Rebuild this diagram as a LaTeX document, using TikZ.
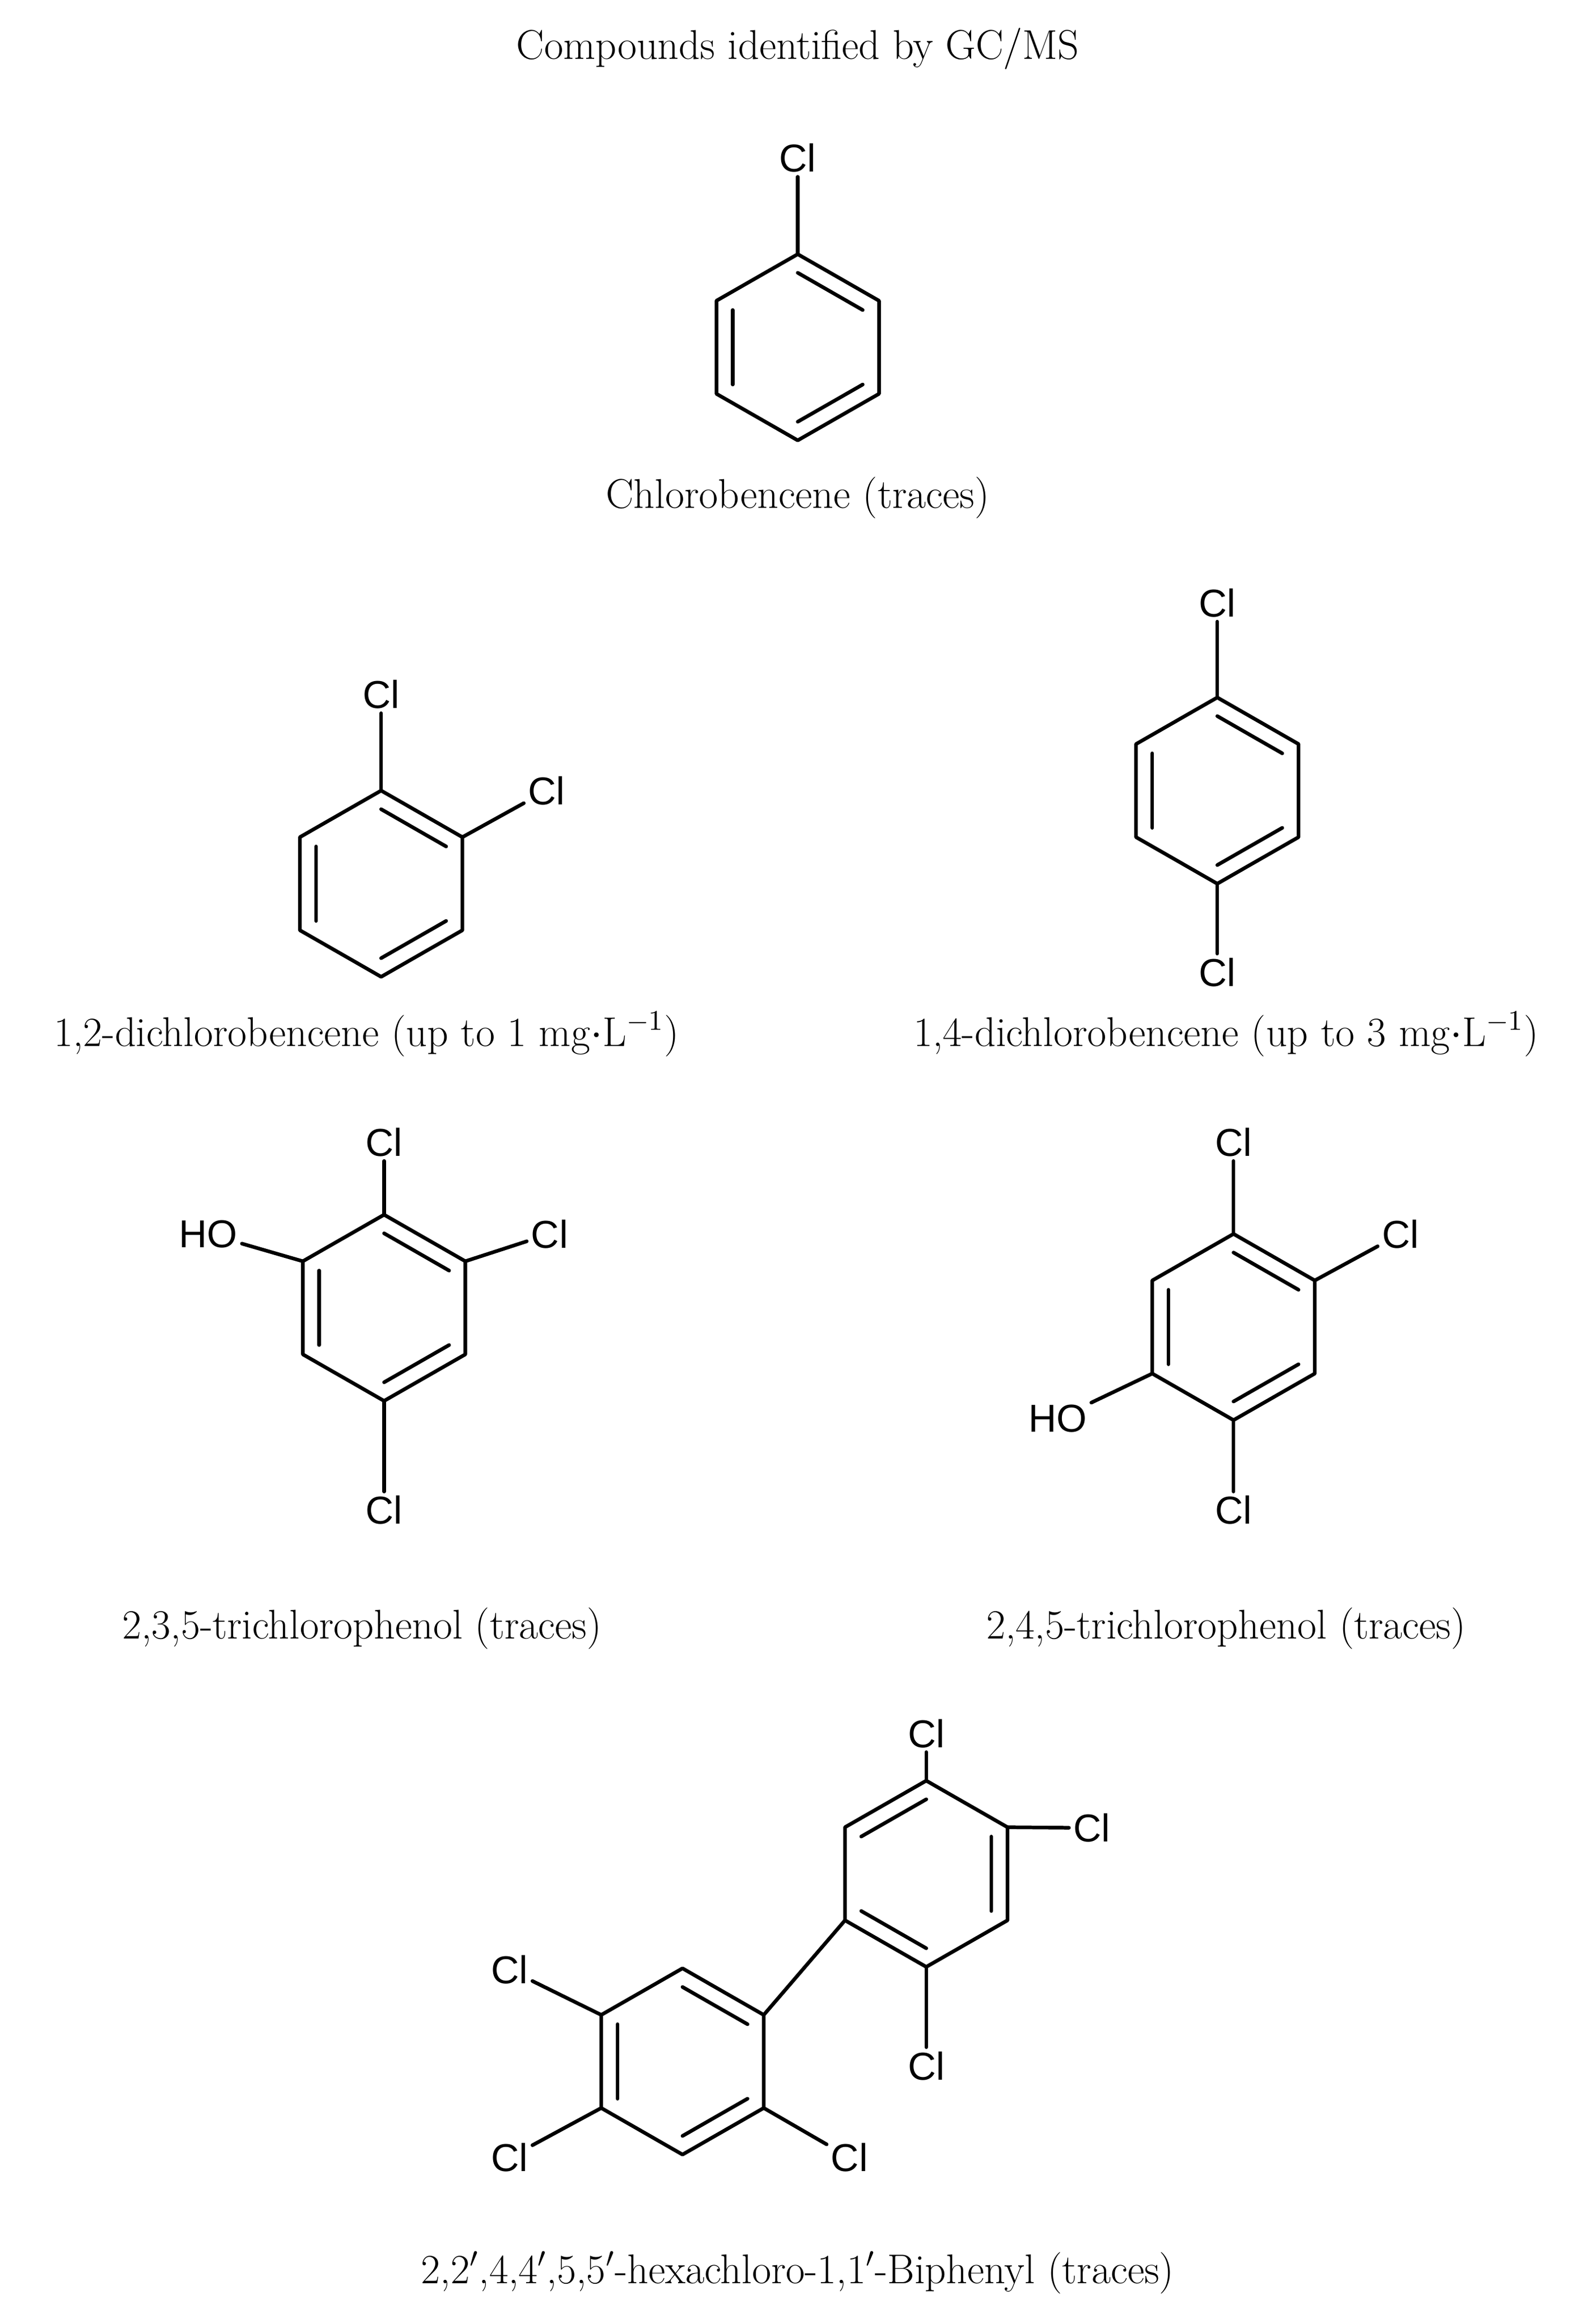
\documentclass[tikz,border=0pt]{standalone}
\usepackage{fontspec}
\newfontfamily\atomfont{Liberation Sans}
\usetikzlibrary{calc}
\tikzset{
  bond/.style={line width=1.4pt,line cap=round,line join=round},
  atom/.style={font=\atomfont\fontsize{15}{17}\selectfont,inner sep=1.5pt},
  captext/.style={font=\fontsize{16}{19}\selectfont,inner sep=0pt}
}
\newcommand{\ringat}[3]{%
  \coordinate (#1c) at (#2,#3);
  \coordinate (#11) at ($(#1c)+(0,-63)$);
  \coordinate (#12) at ($(#1c)+(55,-31.5)$);
  \coordinate (#13) at ($(#1c)+(55,31.5)$);
  \coordinate (#14) at ($(#1c)+(0,63)$);
  \coordinate (#15) at ($(#1c)+(-55,31.5)$);
  \coordinate (#16) at ($(#1c)+(-55,-31.5)$);
  \draw[bond] (#11)--(#12)--(#13)--(#14)--(#15)--(#16)--cycle;}
\newcommand{\dbl}[3]{\draw[bond] ($(#1#2)!.2!(#1c)$) -- ($(#1#3)!.2!(#1c)$);}
\begin{document}
\begin{tikzpicture}[x=0.02cm,y=-0.02cm]
\useasboundingbox (0,0) rectangle (1080,1572);
\node[captext] (title) at (540,33) {Compounds identified by GC/MS};
\ringat{a}{540}{235}
\dbl{a}{1}{2}\dbl{a}{3}{4}\dbl{a}{5}{6}
\node[atom] (acl) at (540,107) {Cl};
\draw[bond] (a1) -- (acl);
\node[captext] (alab) at (540,337) {Chlorobencene (traces)};
\ringat{b}{258}{598}
\dbl{b}{1}{2}\dbl{b}{3}{4}\dbl{b}{5}{6}
\node[atom] (bcl1) at (258,470) {Cl};
\node[atom] (bcl2) at (370,535) {Cl};
\draw[bond] (b1) -- (bcl1);
\draw[bond] (b2) -- (bcl2);
\node[captext] (blab) at (248,700) {1,2-dichlorobencene (up to 1 mg$\cdot$L$^{-1}$)};
\ringat{c}{824}{535}
\dbl{c}{1}{2}\dbl{c}{3}{4}\dbl{c}{5}{6}
\node[atom] (ccl1) at (824,408) {Cl};
\node[atom] (ccl2) at (824,658) {Cl};
\draw[bond] (c1) -- (ccl1);
\draw[bond] (c4) -- (ccl2);
\node[captext] (clab) at (830,700) {1,4-dichlorobencene (up to 3 mg$\cdot$L$^{-1}$)};
\ringat{d}{260}{885}
\dbl{d}{1}{2}\dbl{d}{3}{4}\dbl{d}{5}{6}
\node[atom] (dcl1) at (260,773) {Cl};
\node[atom] (dcl2) at (372,835) {Cl};
\node[atom] (dho) at (141,835) {HO};
\node[atom] (dcl3) at (260,1022) {Cl};
\draw[bond] (d1) -- (dcl1);
\draw[bond] (d2) -- (dcl2);
\draw[bond] (d6) -- (dho);
\draw[bond] (d4) -- (dcl3);
\node[captext] (dlab) at (245,1102) {2,3,5-trichlorophenol (traces)};
\ringat{e}{835}{898}
\dbl{e}{1}{2}\dbl{e}{3}{4}\dbl{e}{5}{6}
\node[atom] (ecl1) at (835,773) {Cl};
\node[atom] (ecl2) at (948,835) {Cl};
\node[atom] (eho) at (716,960) {HO};
\node[atom] (ecl3) at (835,1022) {Cl};
\draw[bond] (e1) -- (ecl1);
\draw[bond] (e2) -- (ecl2);
\draw[bond] (e5) -- (eho);
\draw[bond] (e4) -- (ecl3);
\node[captext] (elab) at (830,1102) {2,4,5-trichlorophenol (traces)};
\ringat{f}{627}{1268}
\dbl{f}{6}{1}\dbl{f}{2}{3}\dbl{f}{4}{5}
\ringat{g}{462}{1395}
\dbl{g}{1}{2}\dbl{g}{3}{4}\dbl{g}{5}{6}
\draw[bond] (f5) -- (g2);
\node[atom] (fcl1) at (627,1173) {Cl};
\node[atom] (fcl2) at (739,1237) {Cl};
\node[atom] (fcl3) at (627,1398) {Cl};
\node[atom] (gcl1) at (345,1333) {Cl};
\node[atom] (gcl2) at (345,1460) {Cl};
\node[atom] (gcl3) at (575,1460) {Cl};
\draw[bond] (f1) -- (fcl1);
\draw[bond] (f2) -- (fcl2);
\draw[bond] (f4) -- (fcl3);
\draw[bond] (g6) -- (gcl1);
\draw[bond] (g5) -- (gcl2);
\draw[bond] (g3) -- (gcl3);
\node[captext] (flab) at (540,1538) {2,2$'$,4,4$'$,5,5$'$-hexachloro-1,1$'$-Biphenyl (traces)};
\end{tikzpicture}
\end{document}
